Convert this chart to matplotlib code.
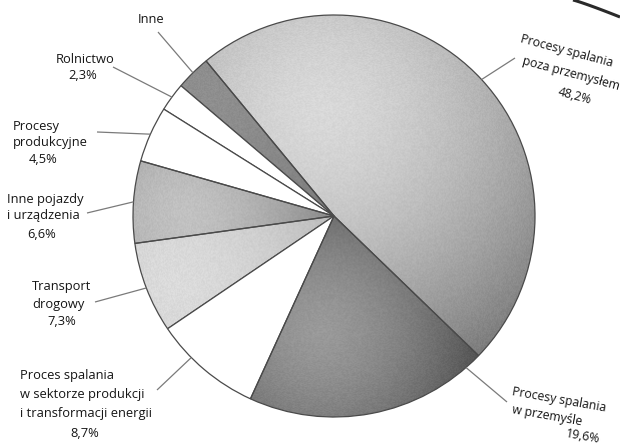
import numpy as np
import matplotlib
matplotlib.use("Agg")
import matplotlib.pyplot as plt

plt.rcParams["font.family"] = ["Open Sans", "DejaVu Sans"]

# Emission sources, counter-clockwise from the large slice
names = [
    "Procesy spalania\npoza przemysłem",
    "Inne",
    "Rolnictwo",
    "Procesy\nprodukcyjne",
    "Inne pojazdy\ni urządzenia",
    "Transport\ndrogowy",
    "Proces spalania\nw sektorze produkcji\ni transformacji energii",
    "Procesy spalania\nw przemyśle",
]
shares = [48.2, 2.8, 2.3, 4.5, 6.6, 7.3, 8.7, 19.6]
show_pct = [True, False, True, True, True, True, True, True]

# Grey tones: (light, dark) per slice; None means plain white
tones = [
    (0.85, 0.60),
    (0.56, 0.50),
    None,
    None,
    (0.76, 0.58),
    (0.86, 0.77),
    None,
    (0.60, 0.30),
]
# Light spot per slice in pixel coordinates (x, y from top)
spots = [
    (320, 110), (205, 95), None, None,
    (185, 215), (175, 285), None, (320, 330),
]
spread = [230, 150, 1, 1, 130, 140, 1, 170]

W, H = 620, 445
CX, CY, R = 334, 216, 201


def Y(y):
    return H - y


fig = plt.figure(figsize=(W / 100, H / 100), dpi=100)
ax = fig.add_axes([0, 0, 1, 1])

wedges, _ = ax.pie(
    shares,
    startangle=-44,
    counterclock=True,
    center=(CX, Y(CY)),
    radius=R,
    colors=["white"] * len(shares),
    wedgeprops=dict(edgecolor="#4a4a4a", linewidth=0.9),
)

# Shaded fills clipped to the slices
gx = np.arange(CX - R - 2, CX + R + 3, 1.0)
gy = np.arange(Y(CY) - R - 2, Y(CY) + R + 3, 1.0)
XX, YY = np.meshgrid(gx, gy)
grain = np.sin(XX * 12.9898 + YY * 78.233) * 43758.5453
grain = grain - np.floor(grain) - 0.5
for w, tone, spot, sp in zip(wedges, tones, spots, spread):
    w.set_zorder(3)
    if tone is None:
        continue
    w.set_facecolor("none")
    lt, dk = tone
    d = np.hypot(XX - spot[0], YY - Y(spot[1])) / sp
    g = lt - (lt - dk) * np.clip(d, 0, 1.3) ** 1.6
    g = np.clip(g + 0.05 * grain, 0, 1)
    im = ax.imshow(
        np.dstack([g, g, g]),
        extent=(gx[0], gx[-1], gy[0], gy[-1]),
        origin="lower",
        interpolation="bilinear",
        zorder=2,
    )
    im.set_clip_path(w)

# Label layout: first-line baseline anchor, step between lines, alignment,
# percent position, rotation, font size, leader outer end, and where along
# the slice arc the leader meets the rim
layout = [
    dict(first=(520, 42), step=(2, 22), ha="left", pct=(575, 96), rot=-15,
         fs=8.8, lead=(515, 58), at=0.5),
    dict(first=(151, 23), step=(0, 16), ha="center", pct=None, rot=0,
         fs=9.3, lead=(158, 32), at=0.5),
    dict(first=(85, 63), step=(0, 16), ha="center", pct=(83, 79), rot=0,
         fs=9.3, lead=(113, 67), at=0.5),
    dict(first=(13, 130), step=(0, 16), ha="left", pct=(43, 163), rot=0,
         fs=9.3, lead=(97, 132), at=0.5),
    dict(first=(7, 203), step=(0, 16), ha="left", pct=(42, 238), rot=0,
         fs=9.3, lead=(87, 213), at=0.5),
    dict(first=(32, 290), step=(0, 18), ha="left", pct=(62, 325), rot=0,
         fs=9.3, lead=(95, 302), at=0.5),
    dict(first=(20, 379), step=(0, 19), ha="left", pct=(85, 437), rot=0,
         fs=9.3, lead=(157, 390), at=0.34),
    dict(first=(512, 395), step=(0, 18), ha="left", pct=(583, 437), rot=-10,
         fs=8.8, lead=(507, 402), at=0.93),
]

txt = dict(color="#151515", zorder=5, rotation_mode="anchor")
for w, name, val, show, lay in zip(wedges, names, shares, show_pct, layout):
    ang = np.deg2rad(w.theta1 + (w.theta2 - w.theta1) * lay["at"])
    x0 = CX + R * np.cos(ang)
    y0 = Y(CY) + R * np.sin(ang)
    lx, ly = lay["lead"]
    ax.plot([x0, lx], [y0, Y(ly)], color="#7a7a7a", lw=0.9, zorder=4,
            solid_capstyle="butt")
    fx, fy = lay["first"]
    sx, sy = lay["step"]
    for k, line in enumerate(name.split("\n")):
        ax.text(fx + k * sx, Y(fy + k * sy), line, ha=lay["ha"], va="baseline",
                rotation=lay["rot"], fontsize=lay["fs"], **txt)
    if show and lay["pct"] is not None:
        pct = f"{val:.1f}%".replace(".", ",")
        va = "center" if lay["rot"] else "baseline"
        ax.text(lay["pct"][0], Y(lay["pct"][1]), pct, ha="center", va=va,
                rotation=lay["rot"], fontsize=lay["fs"], **txt)

# Page border curving in at the top right
t = np.linspace(0, 1, 30)
bx = 573 + 47 * t
by = 0 + 17 * t ** 1.1
ax.plot(bx, Y(by), color="#2a2a2a", lw=2.2, zorder=5, solid_capstyle="butt")

ax.set_xlim(0, W)
ax.set_ylim(0, H)
ax.set_aspect("equal")
ax.axis("off")
fig.savefig("out.png", dpi=100, facecolor="white")
